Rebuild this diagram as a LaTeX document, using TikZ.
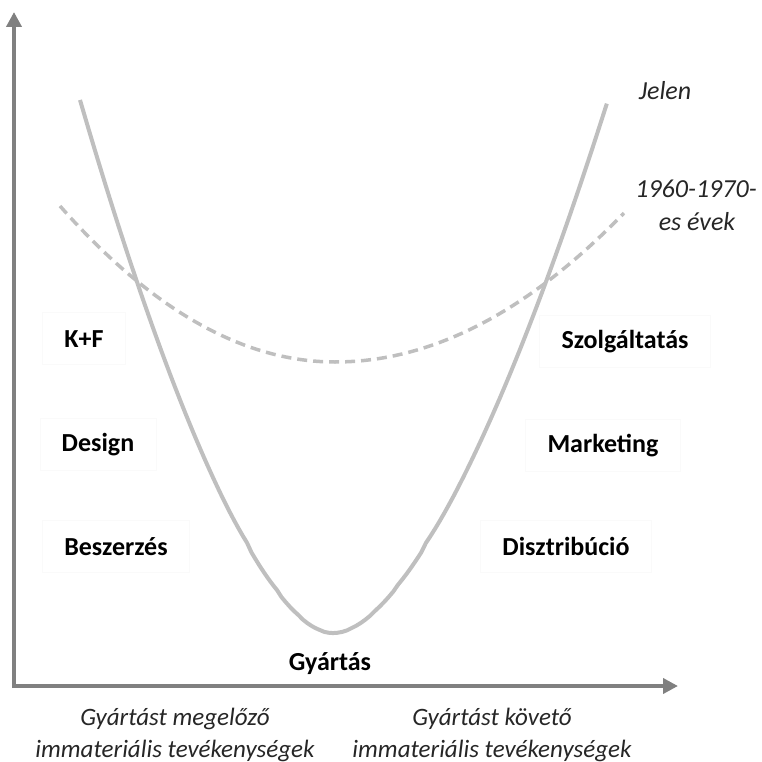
\documentclass[tikz,border=0pt]{standalone}
\usepackage{fontspec}
\setmainfont{Carlito}
\usetikzlibrary{arrows.meta}

\definecolor{axisgray}{RGB}{128,128,128}
\definecolor{curvegray}{RGB}{191,191,191}

\tikzset{
    activity/.style={font=\fontsize{26}{30}\selectfont\bfseries, fill=white, draw=black!2,
        minimum height=52pt, inner xsep=22pt, anchor=base},
    period/.style={font=\fontsize{26}{30}\selectfont\itshape, text=black!85, anchor=base},
    note/.style={font=\fontsize{25}{32}\selectfont\itshape, text=black!85, align=center, anchor=base}
}

\begin{document}
\begin{tikzpicture}[x=1pt, y=-1pt]
        \useasboundingbox (0,0) rectangle (762,762);

        % axes
        \draw[axisgray, line width=4pt, -{Triangle[length=15pt, width=15pt]}] (14,688) -- (14,12);
        \draw[axisgray, line width=4pt, -{Triangle[length=15pt, width=15pt]}] (12,686) -- (678,686);

        % 1960-1970 curve
        \draw[curvegray, line width=3.5pt, dash pattern=on 10pt off 6pt]
            plot[domain=-1:0, samples=40] ({335+275*\x}, {362-156*\x*\x})
            -- plot[domain=0:1, samples=40] ({335+289*\x}, {362-149*\x*\x});

        % present curve
        \draw[curvegray, line width=4pt]
            plot[domain=1:0, samples=60] ({333-253*\x}, {633-544.9*((\x*\x+0.01406)^0.8-0.0330)})
            -- plot[domain=0:1, samples=60] ({333+274*\x}, {633-540.5*((\x*\x+0.012)^0.8-0.0291)});

        \node[activity] (kf) at (84,347) {K+F};
        \node[activity] (design) at (98,451) {Design};
        \node[activity] (beszerzes) at (116,555) {Beszerzés};
        \node[activity, draw=none, fill=none] (gyartas) at (330,670) {Gyártás};
        \node[activity] (szolg) at (625,348) {Szolgáltatás};
        \node[activity] (marketing) at (603,452) {Marketing};
        \node[activity] (disztr) at (566,555) {Disztribúció};

        \node[period] (jelen) at (665,100) {Jelen};
        \node[period] (regi1) at (696,197) {1960-1970-};
        \node[period] (regi2) at (697,230) {es évek};

        \node[note] (elotte) at (175,757) {Gyártást megelőző\\immateriális tevékenységek};
        \node[note] (utana) at (492,757) {Gyártást követő\\immateriális tevékenységek};
    \end{tikzpicture}
\end{document}
